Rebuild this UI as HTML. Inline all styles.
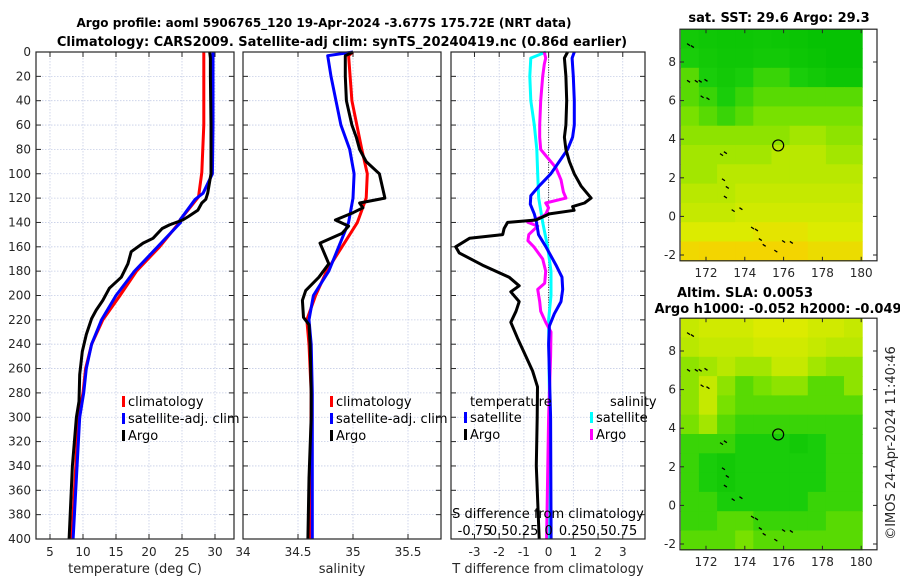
<!DOCTYPE html>
<html><head><meta charset="utf-8"><style>
html,body{margin:0;padding:0;background:#fff;}
svg{display:block;font-family:"DejaVu Sans","Liberation Sans",sans-serif;}
</style></head><body>
<svg id="fig" width="900" height="580" viewBox="0 0 900 580" xmlns="http://www.w3.org/2000/svg">
<text x="324" y="27" text-anchor="middle" font-size="12" font-weight="bold" fill="#000">Argo profile: aoml 5906765_120 19-Apr-2024 -3.677S 175.72E (NRT data)</text>
<text x="342" y="46" text-anchor="middle" font-size="13" font-weight="bold" fill="#000">Climatology: CARS2009. Satellite-adj clim: synTS_20240419.nc (0.86d earlier)</text>
</svg>
<script>
// ---------- data ----------
const depthTicks = [0,20,40,60,80,100,120,140,160,180,200,220,240,260,280,300,320,340,360,380,400];
const tempTicks = [5,10,15,20,25,30];
const salTicks = [34,34.5,35,35.5];
const diffTicks = [-3,-2,-1,0,1,2,3];
const sDiffTickLabels = ["-0.75","0.5","0.25","0","0.25","0.5","0.75"];

const dTArgo = [0,5,20,60,100,116,121,124,130,135,138,142,145,153,157,164,174,185,194,204,212,219,232,246,265,287,300,340,400];
const tArgo  = [29.2,29.3,29.3,29.4,29.4,28.9,28.6,28.0,27.4,26.0,25.1,23.1,22.0,20.6,19.1,17.3,16.8,15.8,14.0,13.0,12.0,11.3,10.5,9.9,9.5,9.4,9.0,8.4,7.9];
const dTClim = [0,60,99,119,138,140,160,180,200,220,240,260,280,300,400];
const tClim  = [28.3,28.3,28.0,27.5,24.7,24.6,21.6,18.1,15.6,13.0,11.3,10.4,10.0,9.3,8.3];
const dTSat  = [0,60,100,116,121,138,140,160,180,200,220,240,260,280,300,400];
const tSat   = [29.7,29.7,29.6,28.2,27.0,24.7,24.8,21.3,17.8,15.0,12.8,11.3,10.5,10.1,9.5,8.5];

const dSArgo = [0,3,20,40,60,70,80,90,100,120,124,128,132,138,143,149,157,174,185,196,204,218,224,240,280,300,350,400];
const sArgo  = [35.0,34.93,34.93,34.94,34.99,35.03,35.06,35.12,35.24,35.29,35.06,35.09,35.0,34.84,34.96,34.90,34.70,34.78,34.69,34.57,34.54,34.55,34.60,34.61,34.62,34.62,34.60,34.59];
const dSClim = [0,3,40,80,100,120,140,160,180,200,220,240,260,280,400];
const sClim  = [35.0,34.96,34.99,35.08,35.13,35.12,35.04,34.9,34.76,34.66,34.58,34.6,34.61,34.62,34.61];
const dSSat  = [0,3,20,60,80,100,120,140,160,180,200,220,240,280,400];
const sSat   = [35.0,34.77,34.8,34.89,34.97,35.01,35.0,34.96,34.87,34.78,34.64,34.6,34.62,34.63,34.63];

const dDTArgo = [0,5,20,40,60,70,80,90,100,110,120,124,127,130,133,138,140,145,150,153,160,165,175,185,192,197,205,213,222,235,250,262,275,300,340,400];
const dtArgo  = [0.77,0.64,0.70,0.73,0.70,0.64,0.70,0.84,1.04,1.31,1.72,1.45,0.97,1.03,0.03,-0.51,-1.66,-1.8,-1.86,-3.2,-3.76,-3.62,-2.68,-1.6,-1.19,-1.53,-1.19,-1.32,-1.53,-1.26,-0.92,-0.65,-0.45,-0.46,-0.5,-0.38];
const dDTSat  = [0,5,20,40,60,70,80,90,100,110,118,125,133,140,150,160,175,185,195,205,215,225,240,300,400];
const dtSat   = [1.04,0.95,1.0,1.04,1.04,0.97,0.77,0.43,0.09,-0.38,-0.72,-0.74,-0.58,-0.49,-0.41,-0.11,0.30,0.54,0.57,0.5,0.23,0.03,0.0,0.08,0.1];
const dDSSat  = [0,5,20,40,60,80,100,120,140,160,180,200,220,300,400];
const dsSat   = [-0.027,-0.18,-0.19,-0.18,-0.145,-0.12,-0.11,-0.1,-0.06,-0.01,0.024,0.024,0.0,0.01,0.01];
const dDSArgo = [0,5,10,20,40,60,70,80,85,95,105,115,120,124,128,133,135,140,143,150,155,160,170,180,190,195,205,213,222,230,250,300,400];
const dsArgo  = [-0.044,-0.03,-0.044,-0.06,-0.08,-0.09,-0.09,-0.08,-0.03,0.074,0.125,0.15,0.176,-0.03,0.0,-0.027,-0.06,-0.21,-0.11,-0.2,-0.21,-0.15,-0.06,-0.03,-0.04,-0.11,-0.09,-0.08,-0.03,0.024,0.02,0.0,-0.02];

const mapLonTicks = [172,174,176,178,180];
const mapLatTicks = [8,6,4,2,0,-2];
const sstGrid = [
 [.15,.12,.1,.1,.12,.1,.08,.05,.05,.05],
 [.2,.15,.12,.12,.15,.15,.1,.08,.05,.05],
 [.3,.2,.15,.2,.25,.25,.2,.15,.1,.1],
 [.3,.25,.2,.25,.3,.3,.3,.3,.3,.3],
 [.35,.3,.25,.3,.35,.35,.35,.35,.35,.35],
 [.4,.4,.4,.4,.4,.4,.45,.45,.4,.4],
 [.45,.45,.45,.45,.45,.5,.5,.5,.45,.45],
 [.45,.45,.5,.5,.5,.5,.5,.5,.5,.5],
 [.5,.5,.5,.55,.55,.55,.55,.55,.55,.55],
 [.55,.55,.55,.6,.6,.6,.6,.6,.6,.6],
 [.65,.65,.65,.65,.7,.7,.7,.65,.65,.65],
 [.78,.8,.8,.8,.8,.8,.8,.75,.75,.75]];
const slaGrid = [
 [.55,.6,.6,.6,.65,.65,.65,.6,.6,.55],
 [.5,.55,.55,.55,.6,.6,.6,.55,.5,.5],
 [.4,.45,.5,.45,.45,.55,.55,.45,.4,.4],
 [.4,.55,.4,.3,.35,.4,.4,.3,.3,.4],
 [.4,.55,.35,.3,.3,.3,.3,.3,.3,.3],
 [.35,.45,.3,.25,.25,.25,.25,.25,.25,.25],
 [.25,.25,.25,.2,.2,.2,.15,.2,.25,.25],
 [.25,.2,.15,.2,.2,.2,.2,.2,.25,.25],
 [.25,.2,.15,.2,.2,.2,.2,.2,.25,.25],
 [.25,.25,.2,.2,.2,.2,.2,.25,.25,.25],
 [.25,.25,.3,.3,.25,.25,.25,.25,.3,.3],
 [.3,.3,.3,.35,.3,.3,.3,.3,.3,.3]];
const coastLon = [171.1,171.3,171.1,171.5,171.7,172.0,171.8,172.1,172.8,173.0,172.9,173.1,173.0,173.4,173.8,174.4,174.6,174.8,175.0,175.6,176.0,176.4];
const coastLat = [8.9,8.8,7.0,7.0,7.0,7.05,6.2,6.1,3.2,3.3,1.9,1.5,1.0,0.3,0.4,-0.6,-0.7,-1.2,-1.5,-1.8,-1.3,-1.35];
const argoLon = 175.72, argoLat = 3.677;

// ---------- helpers ----------
const NS = "http://www.w3.org/2000/svg";
const svg = document.getElementById('fig');
function mk(tag, attrs, parent){ const e=document.createElementNS(NS,tag); for(const k in attrs) e.setAttribute(k,attrs[k]); (parent||svg).appendChild(e); return e; }
function txt(x,y,s,size,anchor,parent,extra){ const e=mk('text',Object.assign({x:x,y:y,'font-size':size,'text-anchor':anchor||'middle',fill:'#262626'},extra||{}),parent); e.textContent=s; return e; }

const Y0=52, Y1=539;
const yD = d => Y0 + d*(Y1-Y0)/400;
function scaleX(p){ return v => p.x0 + (v-p.vmin)*(p.x1-p.x0)/(p.vmax-p.vmin); }

const panels = [
 {name:'temperature-panel', x0:36, x1:234, vmin:2.88, vmax:32.88, ticks:tempTicks, tl:tempTicks.map(String), xlabel:'temperature (deg C)'},
 {name:'salinity-panel', x0:243, x1:441, vmin:34.0, vmax:35.8, ticks:salTicks, tl:salTicks.map(String), xlabel:'salinity'},
 {name:'difference-panel', x0:451, x1:645, vmin:-3.95, vmax:3.9, ticks:diffTicks, tl:diffTicks.map(String), xlabel:'T difference from climatology'}
];

function drawPanel(p, idx){
  const g = mk('g',{});
  
  
  const X = scaleX(p);
  const grid = mk('g',{stroke:'#c5cde6','stroke-width':0.8,'stroke-dasharray':'1.5,1.5'},g);
  
  
  p.ticks.forEach(t=>{ const x=X(t); if(x>p.x0+1&&x<p.x1-1) mk('line',{x1:x,x2:x,y1:Y0,y2:Y1},grid); });
  depthTicks.forEach(d=>{ const y=yD(d); if(d>0&&d<400) mk('line',{x1:p.x0,x2:p.x1,y1:y,y2:y},grid); });
  const tk = mk('g',{stroke:'#262626','stroke-width':1},g);
  p.ticks.forEach(t=>{ const x=X(t); mk('line',{x1:x,x2:x,y1:Y1,y2:Y1-5},tk); mk('line',{x1:x,x2:x,y1:Y0,y2:Y0+5},tk); });
  depthTicks.forEach(d=>{ const y=yD(d); mk('line',{x1:p.x0,x2:p.x0+5,y1:y,y2:y},tk); mk('line',{x1:p.x1,x2:p.x1-5,y1:y,y2:y},tk); });
  p.ticks.forEach((t,i)=>{ const l=txt(X(t),556,p.tl[i],12,'middle',g);   });
  const xl = txt((p.x0+p.x1)/2,573,p.xlabel,13,'middle',g);
  
  
  if(idx===0){
    depthTicks.forEach(d=>{ const l=txt(31,yD(d)+4,String(d),12,'end',g);   });
  }
  return {g:g,X:X};
}
function line(pn, depths, vals, color, name, w){
  const pts = depths.map((d,i)=>pn.X(vals[i]).toFixed(1)+','+yD(d).toFixed(1)).join(' ');
  const e = mk('polyline',{points:pts,fill:'none',stroke:color,'stroke-width':w||3,'stroke-linejoin':'round'},pn.g);
  
  
}
function legendEntry(g,x,y,color,label){
  const r = mk('rect',{x:x,y:y-10,width:3,height:11,fill:color},g);
  
  
  const t = txt(x+6,y,label,13,'start',g,{fill:'#000'});
  
  
}

const P1 = drawPanel(panels[0],0);
line(P1,dTClim,tClim,'#ff0000','series-temp-climatology');
line(P1,dTSat,tSat,'#0000ff','series-temp-satellite');
line(P1,dTArgo,tArgo,'#000000','series-temp-argo');
legendEntry(P1.g,122,406,'#ff0000','climatology');
legendEntry(P1.g,122,423,'#0000ff','satellite-adj. clim');
legendEntry(P1.g,122,440,'#000000','Argo');

const P2 = drawPanel(panels[1],1);
line(P2,dSClim,sClim,'#ff0000','series-sal-climatology');
line(P2,dSSat,sSat,'#0000ff','series-sal-satellite');
line(P2,dSArgo,sArgo,'#000000','series-sal-argo');
legendEntry(P2.g,330,406,'#ff0000','climatology');
legendEntry(P2.g,330,423,'#0000ff','satellite-adj. clim');
legendEntry(P2.g,330,440,'#000000','Argo');

const P3 = drawPanel(panels[2],2);
const zl = mk('line',{x1:P3.X(0),x2:P3.X(0),y1:Y0,y2:Y1,stroke:'#333','stroke-width':1,'stroke-dasharray':'1,1.5'},P3.g);


const sScale = 4;
line(P3,dDSSat,dsSat.map(v=>v*sScale),'#00ffff','series-sdiff-satellite');
line(P3,dDSArgo,dsArgo.map(v=>v*sScale),'#ff00ff','series-sdiff-argo');
line(P3,dDTSat,dtSat,'#0000ff','series-tdiff-satellite');
line(P3,dDTArgo,dtArgo,'#000000','series-tdiff-argo');
const lt1 = txt(470,406,'temperature',13,'start',P3.g,{fill:'#000'});


const lt2 = txt(610,406,'salinity',13,'start',P3.g,{fill:'#000'});


legendEntry(P3.g,464,422,'#0000ff','satellite');
legendEntry(P3.g,464,439,'#000000','Argo');
legendEntry(P3.g,590,422,'#00ffff','satellite');
legendEntry(P3.g,590,439,'#ff00ff','Argo');
const st = txt(548,518,'S difference from climatology',13,'middle',P3.g,{fill:'#000'});


diffTicks.forEach((t,i)=>{ const l=txt(P3.X(t),535,sDiffTickLabels[i],13,'middle',P3.g,{fill:'#000'});   });

panels.forEach(p=>{ const f=mk('rect',{x:p.x0,y:Y0,width:p.x1-p.x0,height:Y1-Y0,fill:'none',stroke:'#262626','stroke-width':1.2});   });

// ---------- maps ----------
function cmap(v){
  const stops=[[0,[0,190,0]],[0.2,[25,205,10]],[0.35,[120,225,0]],[0.5,[185,232,0]],[0.65,[220,235,0]],[0.85,[250,205,0]],[1,[250,175,0]]];
  for(let i=1;i<stops.length;i++){ if(v<=stops[i][0]){ const a=stops[i-1],b=stops[i],f=(v-a[0])/(b[0]-a[0]); return 'rgb('+a[1].map((c,k)=>Math.round(c+(b[1][k]-c)*f)).join(',')+')'; } }
  return 'rgb(250,175,0)';
}
const lonX = lon => 706 + (lon-172)*19.4;
function drawMap(name, grid, yOff, titles){
  const g = mk('g',{});
  
  
  const latY = lat => 62 + yOff + (8-lat)*19.3;
  const lon0=170.7, lon1=180.05, lat0=9.7, lat1=-2.3;
  const nr=grid.length, nc=grid[0].length;
  for(let r=0;r<nr;r++) for(let c=0;c<nc;c++){
    const la=lon0+(lon1-lon0)*c/nc, lb=lon0+(lon1-lon0)*(c+1)/nc;
    const ta=lat0+(lat1-lat0)*r/nr, tb=lat0+(lat1-lat0)*(r+1)/nr;
    const cell = mk('rect',{x:lonX(la).toFixed(1),y:latY(ta).toFixed(1),width:(lonX(lb)-lonX(la)+0.6).toFixed(1),height:(latY(tb)-latY(ta)+0.6).toFixed(1),fill:cmap(grid[r][c])},g);
    
    
  }
  coastLon.forEach((lo,i)=>{ const x=lonX(lo), y=latY(coastLat[i]); const s=mk('line',{x1:x-1.5,y1:y-1,x2:x+1.5,y2:y+1,stroke:'#000','stroke-width':1.3},g);   });
  const c = mk('circle',{cx:lonX(argoLon),cy:latY(argoLat),r:5.5,fill:'none',stroke:'#000','stroke-width':1.2},g);
  
  
  const top=latY(lat0), bot=latY(lat1), left=680, right=877;
  const fr = mk('rect',{x:left,y:top,width:right-left,height:bot-top,fill:'none',stroke:'#262626','stroke-width':1.2},g);
  
  
  mapLonTicks.forEach(lo=>{ const x=lonX(lo); mk('line',{x1:x,x2:x,y1:bot,y2:bot-4,stroke:'#262626'},g); mk('line',{x1:x,x2:x,y1:top,y2:top+4,stroke:'#262626'},g); const l=txt(x,bot+16,String(lo),12,'middle',g);   });
  mapLatTicks.forEach(la=>{ const y=latY(la); mk('line',{x1:left,x2:left+4,y1:y,y2:y,stroke:'#262626'},g); mk('line',{x1:right,x2:right-4,y1:y,y2:y,stroke:'#262626'},g); const l=txt(676,y+4,String(la),12,'end',g);   });
  titles.forEach((t,i)=>{ const e=mk('text',{x:t[1],y:t[2],'font-size':13,'font-weight':'bold','text-anchor':'middle',fill:'#000'},g); e.textContent=t[0];   });
}
drawMap('sst-map', sstGrid, 0, [['sat. SST: 29.6 Argo: 29.3',779,22]]);
drawMap('sla-map', slaGrid, 289, [['Altim. SLA: 0.0053',745,297],['Argo h1000: -0.052 h2000: -0.049',778,313]]);
const ts = mk('text',{x:0,y:0,'font-size':13,'text-anchor':'middle',fill:'#262626',transform:'translate(895,443) rotate(-90)'});
ts.textContent='©IMOS 24-Apr-2024 11:40:46';


</script>
</body></html>
